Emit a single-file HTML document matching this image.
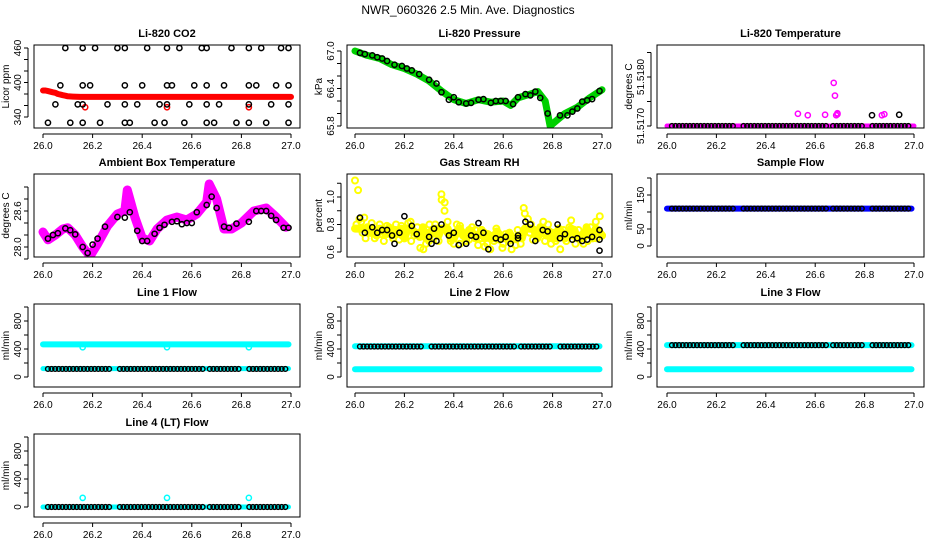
<!DOCTYPE html>
<html><head><meta charset="utf-8">
<style>
html,body{margin:0;padding:0;background:#fff;}
svg{display:block;font-family:"Liberation Sans",Arial,sans-serif;}
</style></head>
<body>
<svg id="chart" width="936" height="540" viewBox="0 0 936 540">
<text x="468" y="14" text-anchor="middle" font-size="12">NWR_060326  2.5 Min. Ave. Diagnostics</text>
</svg>
<script>
// ---- data ----
const xTicks = [26.0, 26.2, 26.4, 26.6, 26.8, 27.0];
const xTickLabels = ["26.0", "26.2", "26.4", "26.6", "26.8", "27.0"];

const co2RedT = [26.0,26.01,26.02,26.03,26.04,26.05,26.06,26.07,26.08,26.09,26.1,26.12,26.15,26.2,26.3,26.4,26.5,26.6,26.7,26.8,26.9,27.0];
const co2RedV = [386,386,385,384,383,382,380,379,378,377,376,375.5,375,375,375,375,375,375,375,375,375,375];
const co2RedOutT = [26.17,26.5,26.83];
const co2RedOutV = [357,357,357];
const co2BlackT = [26.09,26.16,26.21,26.3,26.33,26.42,26.5,26.55,26.64,26.66,26.76,26.83,26.88,26.96,26.99,
  26.07,26.16,26.19,26.33,26.4,26.5,26.52,26.61,26.66,26.73,26.83,26.86,26.94,26.99,
  26.05,26.14,26.16,26.26,26.33,26.38,26.47,26.5,26.59,26.66,26.71,26.83,26.92,26.99,
  26.02,26.11,26.16,26.23,26.33,26.35,26.45,26.49,26.57,26.66,26.69,26.78,26.83,26.9,26.99];
const co2BlackV = [460,460,460,460,460,460,460,460,460,460,460,460,460,460,460,
  395,395,395,395,395,395,395,395,395,395,395,395,395,395,
  362,362,362,362,362,362,362,362,362,362,362,362,362,362,
  330,330,330,330,330,330,330,330,330,330,330,330,330,330,330];

const presT = [26.0,26.05,26.1,26.15,26.2,26.25,26.3,26.35,26.4,26.45,26.5,26.55,26.6,26.63,26.66,26.7,26.74,26.77,26.79,26.82,26.85,26.9,26.95,27.0];
const presV = [67.0,66.93,66.88,66.78,66.72,66.63,66.52,66.36,66.22,66.16,66.22,66.18,66.2,66.13,66.25,66.3,66.35,66.2,65.8,65.9,66.0,66.1,66.25,66.38];
const presBlackT = [26.02,26.04,26.07,26.09,26.11,26.13,26.16,26.19,26.21,26.23,26.26,26.3,26.33,26.35,26.38,26.4,26.42,26.45,26.47,26.5,26.52,26.55,26.57,26.59,26.61,26.64,26.66,26.69,26.71,26.73,26.75,26.78,26.83,26.86,26.88,26.9,26.92,26.94,26.96,26.99];
const presBlackV = [66.97,66.95,66.93,66.9,66.88,66.84,66.78,66.76,66.72,66.69,66.63,66.54,66.48,66.34,66.22,66.26,66.18,66.16,66.17,66.22,66.23,66.17,66.2,66.2,66.2,66.15,66.26,66.31,66.29,66.35,66.25,66.0,65.97,65.97,66.03,66.08,66.19,66.21,66.23,66.36];

const tempMagT = [26.0,27.0];
const tempMagV = [51.5170,51.5170];
const tempOutT = [26.53,26.57,26.64,26.67,26.675,26.68,26.685,26.69,26.69,26.87,26.88];
const tempOutV = [51.51725,51.51722,51.51723,51.51975,51.51788,51.51762,51.51722,51.51726,51.51724,51.51722,51.51724];
const tempBlackOutT = [26.83,26.94];
const tempBlackOutV = [51.51722,51.51723];

const ambT = [26.0,26.02,26.05,26.08,26.1,26.13,26.16,26.19,26.22,26.26,26.3,26.33,26.34,26.37,26.4,26.43,26.46,26.5,26.54,26.58,26.62,26.66,26.67,26.7,26.73,26.76,26.8,26.85,26.9,26.94,26.98];
const ambV = [28.25,28.12,28.2,28.3,28.32,28.2,28.0,27.85,28.05,28.35,28.55,28.6,28.95,28.5,28.15,28.1,28.3,28.45,28.5,28.45,28.55,28.75,29.05,28.8,28.3,28.3,28.4,28.6,28.65,28.5,28.33];
const ambBlackT = [26.02,26.04,26.06,26.09,26.11,26.13,26.16,26.18,26.2,26.22,26.25,26.3,26.33,26.35,26.38,26.4,26.42,26.45,26.47,26.49,26.52,26.54,26.56,26.58,26.6,26.62,26.66,26.68,26.7,26.73,26.75,26.78,26.83,26.86,26.88,26.9,26.92,26.94,26.97,26.99];
const ambBlackV = [28.14,28.2,28.23,28.31,28.28,28.21,28.0,27.9,28.04,28.14,28.34,28.5,28.49,28.58,28.27,28.1,28.1,28.22,28.32,28.37,28.42,28.43,28.38,28.4,28.4,28.58,28.7,28.84,28.65,28.34,28.32,28.39,28.42,28.6,28.6,28.6,28.52,28.45,28.32,28.32];

const rhYellowV = [1.12,1.05,0.82,0.85,0.78,0.74,0.76,0.72,0.80,0.75,0.73,0.78,0.72,0.76,0.74,0.79,0.70,0.77,0.82,0.75,0.73,0.71,0.78,0.66,0.68,0.76,0.80,0.72,1.02,0.90,0.82,0.70,0.66,0.75,0.79,0.72,0.68,0.76,0.74,0.70,0.72,0.76,0.64,0.73,0.70,0.68,0.75,0.72,0.66,0.70,0.74,0.69,0.65,0.72,0.70,0.88,0.84,0.80,0.76,0.70,0.78,0.82,0.72,0.75,0.70,0.68,0.77,0.74,0.70,0.73,0.83,0.76,0.70,0.72,0.66,0.78,0.74,0.70,0.82,0.75,0.72];
const rhYellowV2 = [0.80,0.84,0.74,0.70,0.77,0.81,0.70,0.76,0.73,0.68,0.79,0.74,0.70,0.80,0.69,0.72,0.75,0.81,0.68,0.72,0.78,0.63,0.62,0.74,0.80,0.70,0.74,0.68,0.98,0.96,0.74,0.68,0.72,0.80,0.66,0.74,0.71,0.69,0.78,0.76,0.65,0.70,0.74,0.66,0.62,0.72,0.77,0.69,0.63,0.73,0.68,0.62,0.70,0.76,0.66,0.92,0.78,0.74,0.69,0.74,0.72,0.76,0.68,0.80,0.66,0.74,0.70,0.62,0.76,0.68,0.78,0.72,0.66,0.76,0.70,0.74,0.68,0.78,0.72,0.70,0.86];
const rhBlackT = [26.02,26.04,26.07,26.09,26.11,26.13,26.15,26.16,26.18,26.2,26.23,26.25,26.3,26.31,26.32,26.33,26.35,26.38,26.4,26.42,26.45,26.47,26.49,26.5,26.52,26.54,26.57,26.59,26.61,26.63,26.66,26.66,26.69,26.71,26.73,26.76,26.78,26.82,26.83,26.85,26.88,26.9,26.92,26.94,26.96,26.99,26.99,26.99];
const rhBlackV = [0.85,0.74,0.78,0.74,0.76,0.76,0.72,0.66,0.74,0.86,0.79,0.73,0.71,0.66,0.77,0.68,0.8,0.72,0.74,0.65,0.66,0.72,0.71,0.81,0.74,0.62,0.7,0.69,0.71,0.66,0.72,0.7,0.82,0.8,0.68,0.76,0.75,0.8,0.7,0.73,0.69,0.7,0.68,0.69,0.71,0.76,0.69,0.61];

const sampleFlowBlue = 110;
const sampleFlowBlack = 110;
const line1Cyan = [465, 120];
const line1Black = 115;
const line1CyanOutT = [26.16,26.5,26.83];
const line1CyanOutV = [425,425,425];
const line2Cyan = [440, 110];
const line2Black = 435;
const line3Cyan = [455, 110];
const line3Black = 455;
const line4Cyan = [0];
const line4Black = 0;
const line4CyanOutT = [26.16,26.5,26.83];
const line4CyanOutV = [130,130,130];
const blackGaps = [[26.27,26.3],[26.65,26.66],[26.79,26.82]];

// ---- layout ----
const svg = document.getElementById('chart');
const NS = 'http://www.w3.org/2000/svg';
const cols = [{l:34,r:300,x0:43,x1:291},{l:347,r:612,x0:355,x1:602},{l:657,r:924,x0:667,x1:914}];
const rows = [{t:45,b:128},{t:174,b:257},{t:304,b:387},{t:434,b:517}];

function el(tag, attrs, parent){
  const e = document.createElementNS(NS, tag);
  for (const k in attrs) e.setAttribute(k, attrs[k]);
  (parent||svg).appendChild(e);
  return e;
}

function panel(ci, ri, name, title, ylab, yRef, yTicks, yLabels){
  const c = cols[ci], r = rows[ri];
  const g = el('g', {});
  
  
  const xs = v => c.x0 + (v - 26) * (c.x1 - c.x0);
  const ys = v => yRef[1] + (v - yRef[0]) * (yRef[3] - yRef[1]) / (yRef[2] - yRef[0]);
  const clip = el('clipPath', {id: 'clip-' + name}, g);
  el('rect', {x: c.l, y: r.t, width: c.r - c.l, height: r.b - r.t}, clip);
  const plot = el('g', {'clip-path': 'url(#clip-' + name + ')'}, g);
  
  
  const box = el('rect', {x: c.l, y: r.t, width: c.r - c.l, height: r.b - r.t, fill: 'none', stroke: '#000', 'stroke-width': 1}, g);
  
  
  const tt = el('text', {x: (c.l + c.r) / 2, y: r.t - 8, 'text-anchor': 'middle', 'font-size': 11, 'font-weight': 'bold'}, g);
  tt.textContent = title;
  
  
  const xa = el('line', {x1: xs(xTicks[0]), x2: xs(xTicks[xTicks.length-1]), y1: r.b + 6, y2: r.b + 6, stroke: '#000'}, g);
  
  
  xTicks.forEach((t, i) => {
    el('line', {x1: xs(t), x2: xs(t), y1: r.b + 6, y2: r.b + 10, stroke: '#000'}, g);
    const tl = el('text', {x: xs(t), y: r.b + 21, 'text-anchor': 'middle', 'font-size': 10}, g);
    tl.textContent = xTickLabels[i];
    
    
  });
  const ya = el('line', {x1: c.l - 6, x2: c.l - 6, y1: ys(yTicks[0]), y2: ys(yTicks[yTicks.length-1]), stroke: '#000'}, g);
  
  
  yTicks.forEach(t => el('line', {x1: c.l - 10, x2: c.l - 6, y1: ys(t), y2: ys(t), stroke: '#000'}, g));
  yLabels.forEach(([v, s]) => {
    const y = ys(v);
    const tl = el('text', {x: c.l - 13, y: y, 'text-anchor': 'middle', 'font-size': 10, transform: 'rotate(-90 ' + (c.l - 13) + ' ' + y + ')'}, g);
    tl.textContent = s;
    
    
  });
  const ymid = (r.t + r.b) / 2, yx = c.l - 25;
  const yt = el('text', {x: yx, y: ymid, 'text-anchor': 'middle', 'font-size': 10, transform: 'rotate(-90 ' + yx + ' ' + ymid + ')'}, g);
  yt.textContent = ylab;
  
  
  return {plot, xs, ys};
}

function pts(p, T, V, color, r, sw){
  T.forEach((t, i) => {
    const cc = el('circle', {cx: p.xs(t), cy: p.ys(V[i]), r: r || 2.6, fill: 'none', stroke: color, 'stroke-width': sw || 1.5}, p.plot);
    
    
  });
}
function band(p, T, V, color, w){
  const d = T.map((t, i) => (i ? 'L' : 'M') + p.xs(t).toFixed(1) + ' ' + p.ys(V[i]).toFixed(1)).join(' ');
  const pa = el('path', {d: d, fill: 'none', stroke: color, 'stroke-width': w, 'stroke-linejoin': 'round', 'stroke-linecap': 'round'}, p.plot);
  
  
}
function seq(a, b, step){ const o = []; for (let t = a; t <= b + 1e-9; t += step) o.push(+t.toFixed(4)); return o; }
function blackRow(p, v){
  const T = seq(26.02, 26.99, 0.0145).filter(t => !blackGaps.some(g => t > g[0] && t < g[1]));
  pts(p, T, T.map(() => v), '#000', 2.4, 1.4);
}
function flat(p, v, color, w){ band(p, [26.0, 26.99], [v, v], color, w); }

let p = panel(0, 0, 'co2', 'Li-820 CO2', 'Licor ppm', [460, 48, 340, 117], [340,360,380,400,420,440,460], [[340,'340'],[400,'400'],[460,'460']]);
band(p, co2RedT, co2RedV, '#f00', 6);
pts(p, co2RedOutT, co2RedOutV, '#f00');
pts(p, co2BlackT, co2BlackV, '#000');

p = panel(1, 0, 'pressure', 'Li-820 Pressure', 'kPa', [67.0, 51, 65.8, 126], [65.8,66.0,66.2,66.4,66.6,66.8,67.0], [[65.8,'65.8'],[66.4,'66.4'],[67.0,'67.0']]);
band(p, presT, presV, '#00d000', 7);
pts(p, presBlackT, presBlackV, '#000');

p = panel(2, 0, 'li820-temp', 'Li-820 Temperature', 'degrees C', [51.5170, 126, 51.5180, 77], [51.5170,51.5175,51.5180,51.5185], [[51.5170,'51.5170'],[51.5180,'51.5180']]);
band(p, tempMagT, tempMagV, '#f0f', 5);
pts(p, tempOutT, tempOutV, '#f0f');
blackRow(p, 51.5170);
pts(p, tempBlackOutT, tempBlackOutV, '#000');

p = panel(0, 1, 'ambient-temp', 'Ambient Box Temperature', 'degrees C', [28.0, 247, 28.6, 211], [27.8,28.0,28.2,28.4,28.6,28.8,29.0], [[28.0,'28.0'],[28.6,'28.6']]);
band(p, ambT, ambV, '#f0f', 9);
pts(p, ambBlackT, ambBlackV, '#000');

p = panel(1, 1, 'rh', 'Gas Stream RH', 'percent', [0.6, 252, 1.0, 197], [0.6,0.7,0.8,0.9,1.0,1.1], [[0.6,'0.6'],[0.8,'0.8'],[1.0,'1.0']]);
const rhT = rhYellowV.map((_, i) => 26 + i / (rhYellowV.length - 1));
const rhT2 = rhYellowV2.map((_, i) => 26.006 + i * 0.985 / (rhYellowV2.length - 1));
band(p, rhT, rhYellowV.map(v => Math.min(Math.max(v, 0.7), 0.77)), '#ff0', 8);
pts(p, rhT, rhYellowV, '#ff0', 3, 2);
pts(p, rhT2, rhYellowV2, '#ff0', 3, 2);
pts(p, rhBlackT, rhBlackV, '#000');

p = panel(2, 1, 'sample-flow', 'Sample Flow', 'ml/min', [0, 246, 150, 195], [0,50,100,150,200], [[0,'0'],[50,'50'],[150,'150']]);
flat(p, sampleFlowBlue, '#00f', 6);
blackRow(p, sampleFlowBlack);

const flowTicks = [0,200,400,600,800,1000];
const flowLabels = [[0,'0'],[400,'400'],[800,'800']];
p = panel(0, 2, 'line1-flow', 'Line 1 Flow', 'ml/min', [0, 377, 800, 321], flowTicks, flowLabels);
flat(p, line1Cyan[0], '#0ff', 6); flat(p, line1Cyan[1], '#0ff', 5);
pts(p, line1CyanOutT, line1CyanOutV, '#0ff');
blackRow(p, line1Black);
p = panel(1, 2, 'line2-flow', 'Line 2 Flow', 'ml/min', [0, 377, 800, 321], flowTicks, flowLabels);
flat(p, line2Cyan[0], '#0ff', 6); flat(p, line2Cyan[1], '#0ff', 6);
blackRow(p, line2Black);
p = panel(2, 2, 'line3-flow', 'Line 3 Flow', 'ml/min', [0, 377, 800, 321], flowTicks, flowLabels);
flat(p, line3Cyan[0], '#0ff', 6); flat(p, line3Cyan[1], '#0ff', 6);
blackRow(p, line3Black);
p = panel(0, 3, 'line4-flow', 'Line 4 (LT) Flow', 'ml/min', [0, 507, 800, 451], flowTicks, flowLabels);
flat(p, line4Cyan[0], '#0ff', 5);
pts(p, line4CyanOutT, line4CyanOutV, '#0ff');
blackRow(p, line4Black);
</script>
</body></html>
